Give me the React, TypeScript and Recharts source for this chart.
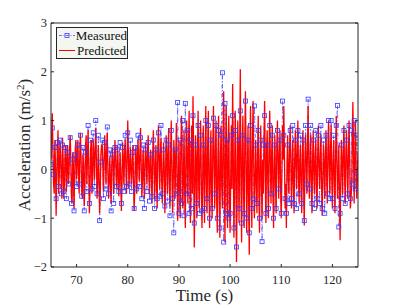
import { LineChart, Line, XAxis, YAxis, Legend } from 'recharts';

const FONT = '"Liberation Serif", "Times New Roman", serif';
const AXIS = '#262626';

// sampling grids of the two records
const START = 65;
const STEP_PRED = 0.125;
const STEP_MEAS = 0.25;

// predicted acceleration (m/s^2), one value per 0.125 s from 65 s to 125 s
const predicted = [
  0.2, 0.7, 1.15, 0.4, -0.3, -0.5, 0.6, 0.1, -0.95, -0.2, 0.4, 0.8, -0.5, -0.1, 0.55, 0.3, -0.2, -0.6, 0.65, 0.2,
  -0.6, -0.3, 0.3, 0.5, -0.45, 0.1, 0.5, -0.3, -0.1, 0.4, 0.7, 0.2, -0.55, -0.7, 0.35, 0.1, -0.8, -0.2, 0.45, 0.6,
  -0.2, 0.2, 0.6, -0.1, -0.5, 0.3, 0.75, 0.2, -0.4, -0.6, 0.3, 0.1, -0.75, -0.3, 0.5, 0.7, -0.3, 0.2, 0.8, 0.1,
  -0.9, -0.4, 0.4, 0.6, -0.5, -0.2, 0.6, 0.3, -0.2, 0.4, 0.85, 0.2, -0.6, -0.3, 0.5, -0.1, -0.9, -0.5, 0.3, 0.5,
  0.5, 0.1, -0.45, 0.2, 0.7, 0.3, -0.3, 0.4, 0.75, -0.1, -0.6, -0.2, 0.25, -0.3, -0.7, 0.1, 0.45, 0.2, -0.5, 0.1,
  0.6, 0.3, -0.2, -0.4, 0.5, 0.1, -0.55, -0.2, 0.35, -0.1, -0.85, -0.3, 0.55, 0.2, -0.3, 0.3, 0.6, 0.1, -0.5, 0.2,
  1.0, 0.3, -0.4, 0.1, 0.45, -0.1, -0.3, 0.2, 0.5, -0.2, -0.85, -0.4, 0.3, 0.5, -0.5, 0.1, 0.6, 0.2, -0.25, 0.3,
  0.85, 0.1, -0.55, -0.2, 0.4, -0.1, -0.6, 0.2, 0.55, 0.1, -0.3, 0.4, 0.7, -0.1, -0.5, 0.2, 0.4, -0.2, -0.7, 0.3,
  0.8, 0.2, -0.6, -0.1, 0.5, -0.3, -0.8, 0.4, 0.9, 0.2, -0.4, 0.3, 0.65, -0.2, -0.7, -0.1, 0.55, 0.1, -0.9, -0.3,
  0.7, 0.4, -0.5, 0.2, 0.85, -0.3, -0.75, 0.2, 1.0, 0.1, -0.9, -0.4, 0.6, 0.3, -0.6, 0.2, 0.95, 0.1, -1.05, -0.4,
  0.6, -0.3, -1.0, 0.4, 1.1, 0.2, -0.8, -0.2, 0.8, -0.4, -1.2, 0.3, 1.0, 0.1, -0.7, 0.5, 1.2, -0.3, -1.1, 0.2,
  0.9, -0.5, 1.5, 0.4, -1.6, -0.6, 0.7, 0.2, -1.0, 0.3, 1.2, -0.4, -0.8, 0.5, 1.0, -0.2, -1.2, -0.5, 0.9, 0.3,
  -1.1, 0.2, 1.3, -0.3, -0.9, 0.5, 1.2, -0.4, -1.2, 0.1, 0.8, -0.5, -1.0, 0.4, 1.3, 0.2, -0.8, 0.3, 1.0, -0.6,
  -1.3, 0.2, 1.1, -0.5, -1.4, 0.3, 0.9, -0.4, -0.8, 0.6, 1.6, -0.3, -1.5, 0.4, 1.3, -0.2, -1.2, 0.5, 1.1, -0.6,
  -1.3, -0.2, 0.9, -0.4, 1.75, 0.3, -1.4, -0.3, 1.2, 0.2, -1.9, -0.5, 1.0, 0.4, -1.1, 0.6, 2.05, -0.2, -1.5, 0.3,
  1.1, -0.4, -1.2, 0.5, 1.6, 0.2, -1.3, -0.2, 0.9, -0.6, -1.75, 0.4, 1.3, -0.3, -1.2, 0.6, 1.4, 0.1, -1.0, -0.3,
  0.6, -0.2, -0.9, 0.3, 1.1, -0.4, -1.3, 0.2, 0.9, -0.3, -1.0, 0.2, -0.5, 0.6, 1.4, -0.2, -1.1, 0.4, 0.8, -0.3,
  -1.0, 0.5, 1.2, 0.1, -0.7, 0.3, 0.9, -0.5, -1.2, 0.1, 0.7, -0.3, -0.9, 0.4, 1.0, 0.2, -0.6, 0.3, 0.8, -0.4,
  -1.0, -0.1, 0.9, 0.2, 1.3, 0.3, -0.8, -0.3, -1.2, 0.1, 0.7, -0.2, -0.5, 0.4, 0.9, 0.2, -0.8, -0.1, 0.6, -0.3,
  -0.9, 0.2, 0.8, 0.1, -0.4, 0.5, 1.0, -0.2, -0.7, 0.2, 0.5, -0.4, -0.9, 0.3, 0.8, -0.3, -1.15, 0.2, 0.7, 0.1,
  -0.5, 0.4, 1.3, 0.2, -0.6, 0.1, 0.7, -0.3, -0.9, 0.2, 0.8, -0.1, -0.5, 0.3, 0.6, -0.4, -0.8, 0.3, 0.9, 0.1,
  -0.4, 0.2, 0.7, -0.3, -0.95, -0.2, 0.5, 0.1, -0.6, 0.3, 0.8, -0.2, -0.7, 0.4, 1.0, 0.1, -0.5, 0.4, 0.9, -0.2,
  -0.8, 0.1, 0.6, -0.2, -0.9, 0.3, 1.1, 0.2, -0.6, -0.1, 0.5, -0.5, -1.45, -0.3, 0.6, 0.1, -0.5, 0.4, 0.9, -0.1,
  -0.7, 0.3, 0.8, 0.1, -0.6, 0.2, 1.0, 0.2, -0.8, -0.6, -0.4, 0.5, 1.38, 0.3, -0.7, 0.2, 1.0, 0.1, -0.6, -0.2, 0.3,
];

// measured acceleration (m/s^2), one value per 0.25 s
const measured = [
  0.1, 0.85, -0.1, 0.45, -0.6, 0.55, -0.35, 0.6, -0.5, 0.5, -0.45, 0.45, -0.6, 0.35, -0.3, 0.65, -0.7, 0.2, -0.85, 0.3,
  -0.35, 0.5, -0.3, 0.7, -0.55, 0.45, -0.85, 0.35, -0.45, 0.9, -0.7, 0.6, -0.4, 0.75, -0.35, 1.0, -0.5, 0.7, -1.05, 0.15,
  0.6, -0.6, 0.55, -0.4, 0.87, -0.5, 0.4, -0.85, 0.3, -0.7, 0.45, -0.35, 0.4, -0.45, 0.55, -0.7, 0.45, -0.45, 0.7, -0.35,
  0.75, -0.3, 0.6, -0.45, 0.35, -0.8, 0.45, -0.4, 0.7, -0.35, 0.65, -0.6, 0.5, -0.8, 0.4, -0.45, 0.55, -0.65, 0.3, -0.55,
  0.6, -0.8, 0.4, -0.6, 0.75, -0.55, 0.9, -0.5, 0.4, -0.75, 0.6, -0.65, 0.5, -0.95, 0.8, -0.6, -1.3, 0.4, -0.5, 1.37,
  -0.9, 0.6, -0.7, 1.0, -0.95, 1.35, -0.5, 0.8, -0.9, 0.6, -0.8, 1.1, -1.1, 0.5, -0.7, 0.9, -0.9, 0.7, -0.85, 0.5,
  -0.8, 1.0, -0.6, 0.9, -1.0, 0.6, -0.8, 1.05, -0.5, 0.9, -1.0, 0.8, -1.2, 0.7, 1.98, -1.49, 1.35, -0.9, 0.6, -1.0,
  -0.9, 0.7, 1.1, -1.2, 0.8, -1.59, 0.6, -0.8, 1.2, -1.1, 0.7, -0.9, 1.4, -1.0, 0.6, -1.3, 0.9, -0.8, -0.6, 1.3,
  0.5, -0.7, 0.8, -1.0, 0.6, -1.48, 0.5, 1.1, -0.9, 0.5, -0.8, 0.9, -0.5, 0.7, -1.0, 0.5, -0.8, 0.8, -0.4, 0.6,
  -0.9, 1.4, 0.7, -0.6, -0.9, 0.5, -0.7, 0.8, -0.6, 0.9, -0.7, 0.6, -0.8, 0.8, -0.5, 0.7, -0.7, 0.6, -1.05, 0.9,
  -0.3, 1.44, -0.4, 0.9, -0.7, 0.6, -0.8, 0.8, -0.6, 0.7, -0.7, 0.9, -0.8, 0.6, -0.9, 0.7, -0.5, 1.0, -0.6, 1.0,
  -0.6, 0.7, -0.8, 0.9, 1.31, -1.18, -0.9, 0.5, -0.6, 0.8, -0.7, 0.6, -0.5, 0.9, -0.6, 0.8, -0.3, 1.0, -0.4, 0.7, -0.1,
];

const xTicks = [70, 80, 90, 100, 110, 120];
const yTicks = [-2, -1, 0, 1, 2, 3];

const predData = predicted.map((v, i) => ({ t: START + i * STEP_PRED, predicted: v }));
const measData = measured.map((v, i) => ({ t: START + i * STEP_MEAS, measured: v }));

const fmtY = (v: number) => (v < 0 ? `\u2212${Math.abs(v)}` : `${v}`);

const SquareDot = (props: any) => {
  const { cx, cy, index } = props;
  if (cx == null || cy == null) return <g key={index} />;
  return <rect key={index} x={cx - 2} y={cy - 2} width={4} height={4} fill="none" stroke="#3a3aff" strokeWidth={0.8} />;
};

const LegendRow = ({ kind, label }: { kind: 'm' | 'p'; label: string }) => (
  <div style={{ display: 'flex', alignItems: 'center', height: 15 }}>
    <svg width={18} height={15} style={{ marginLeft: 1 }}>
      {kind === 'm' ? (
        <>
          <line x1={1} x2={17} y1={7.5} y2={7.5} stroke="#4d4dff" strokeWidth={0.8} strokeDasharray="3 1.5 1 1.5" />
          <rect x={7} y={5.5} width={4} height={4} fill="none" stroke="#3a3aff" strokeWidth={0.8} />
        </>
      ) : (
        <line x1={1} x2={17} y1={7.5} y2={7.5} stroke="#ff0000" strokeWidth={1} />
      )}
    </svg>
    <span style={{ marginLeft: 1 }}>{label}</span>
  </div>
);

const LegendBox = () => (
  <div
    style={{
      border: `1px solid ${AXIS}`,
      background: '#f4f6f1',
      width: 70,
      fontFamily: FONT,
      fontSize: 13,
      color: '#111',
      lineHeight: '15px',
    }}
  >
    <LegendRow kind="m" label="Measured" />
    <LegendRow kind="p" label="Predicted" />
  </div>
);

const YLabel = () => (
  <text x={30} y={145} transform="rotate(-90 30 145)" textAnchor="middle" fontFamily={FONT} fontSize={17} fill={AXIS}>
    Acceleration (m/s<tspan dy={-6} fontSize={11}>2</tspan>
    <tspan dy={6}>)</tspan>
  </text>
);

export default function App() {
  const tickStyle = { fontSize: 12.5, fill: AXIS, fontFamily: FONT };
  return (
    <div style={{ position: 'absolute', left: 0, top: 0, background: '#fff' }}>
      <LineChart width={396} height={306} margin={{ top: 22, right: 37, bottom: 0, left: 0 }}>
        <XAxis
          dataKey="t"
          type="number"
          domain={[65, 125]}
          allowDataOverflow
          ticks={xTicks}
          height={39}
          tickSize={-3}
          tickMargin={11}
          stroke={AXIS}
          tick={tickStyle}
          label={{ value: 'Time (s)', position: 'insideBottom', offset: 5, fontSize: 17, fill: AXIS, fontFamily: FONT }}
        />
        <XAxis
          xAxisId="top"
          orientation="top"
          type="number"
          domain={[65, 125]}
          allowDataOverflow
          ticks={xTicks}
          height={1}
          tickSize={-3}
          stroke={AXIS}
          tickFormatter={() => ''}
        />
        <YAxis
          type="number"
          domain={[-2, 3]}
          allowDataOverflow
          ticks={yTicks}
          width={51}
          tickSize={-3}
          tickMargin={7}
          stroke={AXIS}
          tick={tickStyle}
          tickFormatter={fmtY}
          label={{ content: () => <YLabel /> }}
        />
        <YAxis
          yAxisId="r"
          orientation="right"
          type="number"
          domain={[-2, 3]}
          allowDataOverflow
          ticks={yTicks}
          width={1}
          tickSize={-3}
          stroke={AXIS}
          tickFormatter={() => ''}
        />
        <Legend
          layout="vertical"
          align="center"
          verticalAlign="middle"
          content={() => <LegendBox />}
          wrapperStyle={{ left: 56, top: 27, width: 72 }}
        />
        <Line
          data={measData}
          dataKey="measured"
          name="Measured"
          type="linear"
          stroke="#4d4dff"
          strokeWidth={0.8}
          strokeDasharray="4 2 1 2"
          dot={SquareDot}
          activeDot={false}
          isAnimationActive={false}
        />
        <Line
          data={predData}
          dataKey="predicted"
          name="Predicted"
          type="linear"
          stroke="#ff0000"
          strokeWidth={1.3}
          dot={false}
          activeDot={false}
          isAnimationActive={false}
        />
      </LineChart>
    </div>
  );
}
